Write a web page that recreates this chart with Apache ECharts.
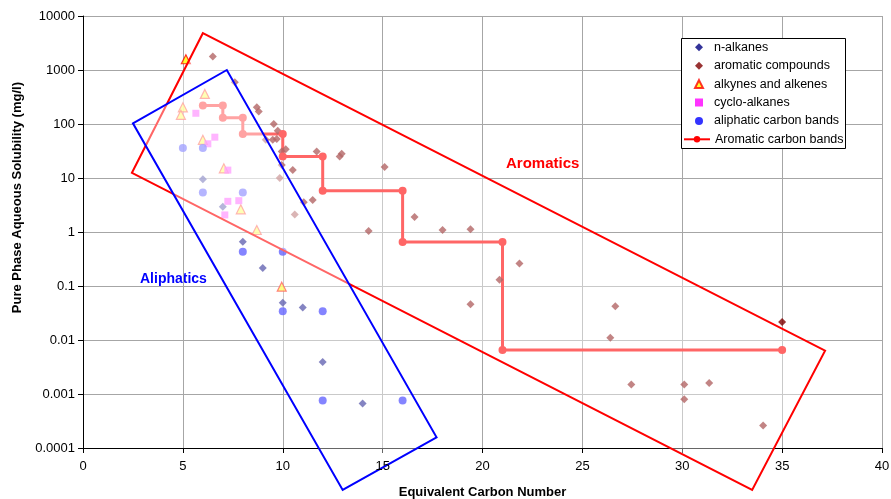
<!DOCTYPE html>
<html>
<head>
<meta charset="utf-8">
<script src="https://cdn.jsdelivr.net/npm/echarts@6/dist/echarts.min.js"></script>
<style>
  html, body { margin: 0; padding: 0; background: #fff; }
  #chart { width: 891px; height: 499px; }
</style>
</head>
<body>
<div id="chart"></div>
<script>
// Measured solubilities: [equivalent carbon number, solubility mg/l]
const nAlkanes = [[6, 9.5], [7, 2.95], [8, 0.66], [9, 0.215], [10, 0.049], [11, 0.04], [12, 0.0039], [14, 0.00067]];

const aromaticCompounds = [
  [6.5, 1780], [7.6, 590], [8.7, 205], [8.8, 170], [9.55, 100], [9.75, 75],
  [9.5, 51], [9.7, 53], [9.15, 51], [10.15, 34], [9.95, 31], [9.95, 17.4],
  [10.5, 14], [9.85, 10], [11.7, 31], [12.95, 28], [12.85, 25], [10.6, 2.1],
  [11.05, 3.55], [11.5, 3.9], [14.3, 1.04], [15.1, 16], [16.6, 1.9], [18.0, 1.09],
  [19.4, 1.12], [21.85, 0.26], [20.85, 0.13], [19.4, 0.046], [26.65, 0.042],
  [26.4, 0.011], [27.45, 0.0015], [30.1, 0.0015], [30.1, 0.0008], [31.35, 0.0016],
  [34.05, 0.00026], [35.0, 0.0215]
];

const alkynesAlkenes = [[5.15, 1580], [6.1, 360], [5.0, 204], [4.9, 148], [6.0, 51], [7.05, 15.1], [7.9, 2.63], [8.7, 1.09], [9.95, 0.097]];

const cycloAlkanes = [[5.65, 158], [6.6, 57], [6.25, 43], [7.25, 14], [7.25, 3.7], [7.8, 3.8], [7.1, 2.07]];

// TPHCWG aliphatic fraction solubilities at band limits
const aliphaticBands = [[5, 36], [6, 36], [6, 5.4], [8, 5.4], [8, 0.43], [10, 0.43], [10, 0.034], [12, 0.034], [12, 0.00076], [16, 0.00076]];

// TPHCWG aromatic fraction solubilities, stepped across each band
const aromaticBands = [[6, 220], [7, 220], [7, 130], [8, 130], [8, 65], [10, 65], [10, 25], [12, 25], [12, 5.8], [16, 5.8], [16, 0.65], [21, 0.65], [21, 0.0065], [35, 0.0065]];

// Outline regions (corners in data units)
const aromaticsRegion = [[2.45, 12.5], [6.0, 4800], [37.15, 0.00634], [33.5, 1.67e-5]];
const aliphaticsRegion = [[2.5, 103], [7.2, 1000], [17.7, 0.000158], [13.0, 1.67e-5]];

const xTicks = [0, 5, 10, 15, 20, 25, 30, 35, 40];
const yTickLabels = ['0.0001', '0.001', '0.01', '0.1', '1', '10', '100', '1000', '10000'];

const markerNames = ['n-alkanes', 'aromatic compounds', 'alkynes and alkenes', 'cyclo-alkanes', 'aliphatic carbon bands'];
const lineNames = ['Aromatic carbon bands'];

const FONT = '"Liberation Sans", Arial, sans-serif';

function regionSeries(name, corners, color) {
  return {
    type: 'custom',
    name: name,
    silent: true,
    clip: false,
    z: 3,
    data: [corners[0]],
    renderItem: function (params, api) {
      const pts = corners.map(function (c) { return api.coord(c); });
      return {
        type: 'polygon',
        shape: { points: pts },
        style: { fill: 'rgba(255,255,255,0.4)', stroke: color, lineWidth: 2 }
      };
    }
  };
}

const xRange = { min: xTicks[0], max: xTicks[xTicks.length - 1], interval: 5 };
const legendText = { fontFamily: FONT, fontSize: 12.5, color: '#000', lineHeight: 14 };

const chart = echarts.init(document.getElementById('chart'), null, { renderer: 'canvas' });

chart.setOption({
  animation: false,
  backgroundColor: '#fff',
  grid: { left: 83, right: 9, top: 16, bottom: 51, containLabel: false, outerBoundsMode: 'none' },
  xAxis: [
    {
      // grid lines, ticks and axis line (beneath the outlined regions)
      type: 'value', min: xRange.min, max: xRange.max, interval: xRange.interval,
      position: 'bottom',
      axisLine: { show: true, onZero: false, lineStyle: { color: '#000', width: 1 } },
      axisTick: { show: true, length: 5, lineStyle: { color: '#000' } },
      axisLabel: { show: false },
      splitLine: { show: true, lineStyle: { color: '#a6a6a6', width: 1 } }
    },
    {
      // tick labels and title, kept above the outlined regions
      type: 'value', min: xRange.min, max: xRange.max, interval: xRange.interval,
      position: 'bottom', z: 6,
      name: 'Equivalent Carbon Number',
      nameLocation: 'middle',
      nameGap: 38,
      nameTextStyle: { fontFamily: FONT, fontSize: 13, fontWeight: 'bold', color: '#000' },
      axisLine: { show: false, onZero: false },
      axisTick: { show: false },
      axisLabel: { fontFamily: FONT, fontSize: 13, color: '#000', margin: 12 },
      splitLine: { show: false }
    }
  ],
  yAxis: {
    type: 'log',
    logBase: 10,
    min: 0.0001,
    max: 10000,
    splitNumber: 8,
    axisLine: { show: true, lineStyle: { color: '#000', width: 1 } },
    axisTick: { show: true, length: 5, lineStyle: { color: '#000' } },
    axisLabel: {
      fontFamily: FONT, fontSize: 13, color: '#000', margin: 8,
      formatter: function (v) { return yTickLabels[Math.round(Math.log10(v)) + 4]; }
    },
    splitLine: { show: true, lineStyle: { color: '#a6a6a6', width: 1 } },
    minorTick: { show: false }
  },
  legend: [
    {
      orient: 'vertical', left: 694, top: 40.3, padding: 0,
      itemGap: 4.4, itemWidth: 8, itemHeight: 8,
      textStyle: Object.assign({ padding: [0, 0, 0, 6] }, legendText),
      data: markerNames
    },
    {
      orient: 'vertical', left: 683, top: 132.3, padding: 0,
      itemWidth: 26, itemHeight: 8,
      textStyle: legendText,
      data: lineNames
    }
  ],
  graphic: [
    {
      type: 'rect', z: 3.5,
      shape: { x: 681.5, y: 38.5, width: 164, height: 110 },
      style: { fill: '#fff', stroke: '#000', lineWidth: 1 }
    },
    {
      type: 'text', left: 11, top: 82,
      rotation: Math.PI / 2,
      style: { text: 'Pure Phase Aqueous Solubility (mg/l)', font: 'bold 13px ' + FONT, fill: '#000' }
    },
    {
      type: 'text', left: 506, top: 156,
      style: { text: 'Aromatics', font: 'bold 15px ' + FONT, fill: '#ff0000' }
    },
    {
      type: 'text', left: 140, top: 272,
      style: { text: 'Aliphatics', font: 'bold 14px ' + FONT, fill: '#0000ff' }
    }
  ],
  series: [
    {
      type: 'scatter', name: 'n-alkanes', data: nAlkanes, z: 2,
      symbol: 'diamond', symbolSize: 8,
      itemStyle: { color: '#000080' }
    },
    {
      type: 'scatter', name: 'aromatic compounds', data: aromaticCompounds, z: 2,
      symbol: 'diamond', symbolSize: 8,
      itemStyle: { color: '#800000' }
    },
    {
      type: 'scatter', name: 'alkynes and alkenes', data: alkynesAlkenes, z: 2,
      symbol: 'triangle', symbolSize: 9,
      itemStyle: { color: '#ffff00', borderColor: '#ff0000', borderWidth: 1.2 }
    },
    {
      type: 'scatter', name: 'cyclo-alkanes', data: cycloAlkanes, z: 2,
      symbol: 'rect', symbolSize: 7,
      itemStyle: { color: '#ff00ff' }
    },
    {
      type: 'scatter', name: 'aliphatic carbon bands', data: aliphaticBands, z: 2,
      symbol: 'circle', symbolSize: 8,
      itemStyle: { color: '#0000ff' }
    },
    {
      type: 'line', name: 'Aromatic carbon bands', data: aromaticBands, z: 2,
      symbol: 'circle', symbolSize: 8, showSymbol: true,
      lineStyle: { color: '#ff0000', width: 3 },
      itemStyle: { color: '#ff0000' }
    },
    regionSeries('Aromatics region', aromaticsRegion, '#ff0000'),
    regionSeries('Aliphatics region', aliphaticsRegion, '#0000ff')
  ]
});
</script>
</body>
</html>
